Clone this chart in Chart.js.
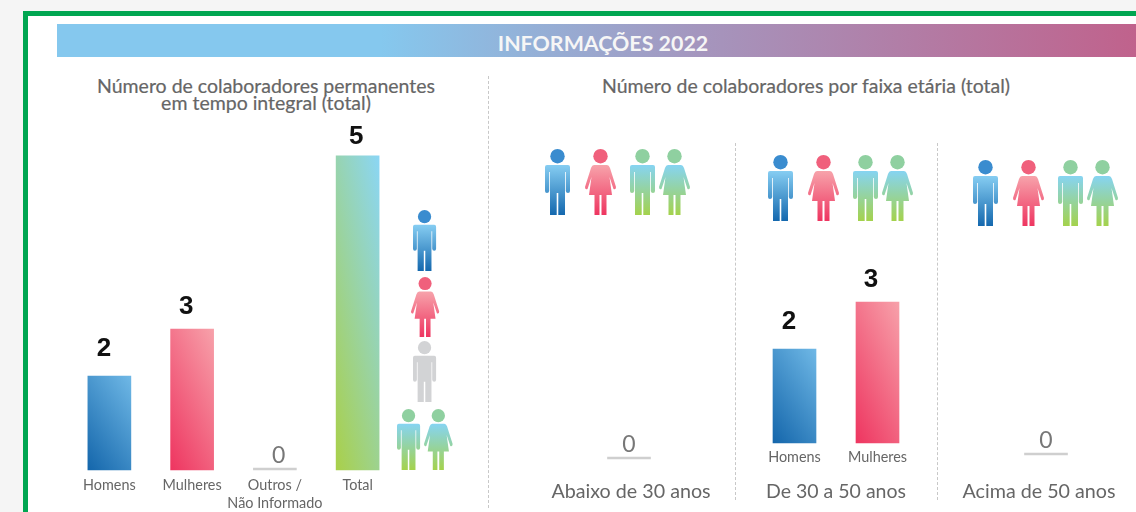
<!DOCTYPE html>
<html lang="pt">
<head>
<meta charset="utf-8">
<title>Informações 2022</title>
<script src="https://cdn.jsdelivr.net/npm/chart.js@4/dist/chart.umd.min.js"></script>
<style>
   html, body { margin: 0; width: 1136px; height: 512px; overflow: hidden; background: #f5f5f5; font-family: Lato, sans-serif; }
   #frame { position: absolute; left: 23px; top: 11px; width: 1200px; height: 600px; border: 5px solid #00a651; background: #fff; }
   #banner { position: absolute; left: 57px; top: 24px; width: 1066px; height: 33px; line-height: 38px; text-align: center; padding-left: 13px; color: #f6f6f6; font-size: 21.4px; font-weight: 700;
      background: linear-gradient(90deg, #85c8ee 0, #85c8ee 30%, #a595bd 60%, #c0628c 100%); }
   .heading { position: absolute; color: #666; font-size: 19.5px; line-height: 17px; text-align: center; -webkit-text-stroke: 0.2px #666; white-space: nowrap; }
   .sep { position: absolute; width: 0; border-left: 1px dashed #c8c8c8; }
   canvas { position: absolute; }
   svg.icon { position: absolute; overflow: visible; }
</style>
</head>
<body>
<div id="frame"></div>
<div id="banner">INFORMAÇÕES 2022</div>
<div class="heading" style="left:66px;top:77px;width:400px">Número de colaboradores permanentes<br>em tempo integral (total)</div>
<div class="heading" style="left:556px;top:77px;width:500px">Número de colaboradores por faixa etária (total)</div>
<div class="sep" style="left:488px;top:76px;height:432px"></div>
<div class="sep" style="left:735px;top:143px;height:357px"></div>
<div class="sep" style="left:937px;top:143px;height:357px"></div>

<svg width="0" height="0" style="position:absolute">
   <defs>
      <linearGradient id="g-blue" x1="0" y1="0" x2="0" y2="1"><stop offset="0" stop-color="#86cdf2"/><stop offset="1" stop-color="#1468ae"/></linearGradient>
      <linearGradient id="g-pink" x1="0" y1="0" x2="0" y2="1"><stop offset="0" stop-color="#f7a3ab"/><stop offset="1" stop-color="#ee3560"/></linearGradient>
      <linearGradient id="g-gray" x1="0" y1="0" x2="0" y2="1"><stop offset="0" stop-color="#d2d3d5"/><stop offset="1" stop-color="#d2d3d5"/></linearGradient>
      <linearGradient id="g-green" x1="0" y1="0" x2="0" y2="1"><stop offset="0" stop-color="#86d4f2"/><stop offset="1" stop-color="#a4d24c"/></linearGradient>
   </defs>
</svg>

<canvas id="chart-sex" width="331" height="394" style="left:68px;top:118px"></canvas>
<canvas id="chart-below" width="200" height="253" style="left:529px;top:259px"></canvas>
<canvas id="chart-mid" width="166" height="257" style="left:753px;top:255px"></canvas>
<canvas id="chart-above" width="180" height="257" style="left:956px;top:255px"></canvas>

<script>
// Data
const sexLabels = ['Homens', 'Mulheres', ['Outros /', 'Não Informado'], 'Total'];
const sexValues = [2, 3, 0, null];
const totalValues = [null, null, null, 5];
const belowLabels = ['Abaixo de 30 anos'];
const belowValues = [0];
const midLabels = ['Homens', 'Mulheres'];
const midValues = [2, 3];
const midTitle = 'De 30 a 50 anos';
const aboveLabels = ['Acima de 50 anos'];
const aboveValues = [0];

const sexFills = [['#1466ab', '#6fb8e6'], ['#ee3560', '#f7a1aa'], null, ['#a9d04a', '#8bd6f5']];
const midFills = [sexFills[0], sexFills[1]];

// Pictograms: kind, colour, centre x, top y, height
const icons = [
   ['man', 'blue', 425, 210, 61], ['woman', 'pink', 425, 277, 60], ['man', 'gray', 425, 341, 61],
   ['man', 'green', 409, 409, 61], ['woman', 'green', 438, 409, 61],
   ['man', 'blue', 557, 149, 66], ['woman', 'pink', 600, 149, 66], ['man', 'green', 642, 149, 66], ['woman', 'green', 674, 149, 66],
   ['man', 'blue', 780, 155, 66], ['woman', 'pink', 823, 155, 66], ['man', 'green', 865, 155, 66], ['woman', 'green', 897, 155, 66],
   ['man', 'blue', 985, 160, 66], ['woman', 'pink', 1028, 160, 66], ['man', 'green', 1070, 160, 66], ['woman', 'green', 1102, 160, 66]
];
const headColors = { blue: '#3a8ccf', pink: '#f0607c', gray: '#d2d3d5', green: '#8fd0a0' };
const bodies = {
   man: { w: 25, d: 'M2 16H23Q25 16 25 18V42Q25 44 23 44Q21 44 20.8 42V23H20V66H13.3V44H11.7V66H5V23H4.2V42Q4 44 2 44Q0 44 0 42V18Q0 16 2 16Z' },
   woman: { w: 31, d: 'M9 16H22Q24 16 25 19L31 38Q31 41 28.5 40L24.5 28L27 46H21.5V66H16.5V46H14.5V66H9.5V46H4L6.5 28L2.5 40Q0 41 0 38L6 19Q7 16 9 16Z' }
};

icons.forEach(([kind, color, cx, top, h]) => {
   const body = bodies[kind];
   const scale = h / 66;
   const svg = document.createElementNS('http://www.w3.org/2000/svg', 'svg');
   svg.setAttribute('class', 'icon');
   svg.setAttribute('viewBox', `0 0 ${body.w} 66`);
   svg.setAttribute('width', body.w * scale);
   svg.setAttribute('height', h);
   svg.style.left = (cx - body.w * scale / 2) + 'px';
   svg.style.top = top + 'px';
   svg.innerHTML = `<circle cx="${body.w / 2}" cy="7.2" r="7.2" fill="${headColors[color]}"/><path d="${body.d}" fill="url(#g-${color})"/>`;
   document.body.appendChild(svg);
});

// Diagonal gradient for each bar, dark at the lower left corner, light at the upper right
function barFill(fills){
   return (ctx) => {
      const fill = fills[ctx.dataIndex];
      const value = ctx.dataset.data[ctx.dataIndex];
      const chart = ctx.chart;
      if(!fill || !value || !chart.chartArea) return '#cfcfcf';
      const yScale = chart.scales[ctx.dataset.yAxisID || 'y'];
      const px = chart.scales.x.getPixelForValue(ctx.dataIndex);
      const base = yScale.getPixelForValue(0);
      const head = yScale.getPixelForValue(value);
      // 40% of the colour change happens across the width of the bar
      const a = 0.4 / 43, b = 0.6 / (base - head);
      const len = a * a + b * b;
      const grad = chart.ctx.createLinearGradient(px - 21.5, base, px - 21.5 + a / len, base - b / len);
      grad.addColorStop(0, fill[0]);
      grad.addColorStop(1, fill[1]);
      return grad;
   };
}

// Numbers above the bars
const valueLabels = {
   id: 'valueLabels',
   afterDatasetsDraw(chart, args, opts){
      const c = chart.ctx;
      chart.data.datasets.forEach((ds, i) => {
         chart.getDatasetMeta(i).data.forEach((bar, j) => {
            const value = ds.data[j];
            if(value === null) return;
            c.save();
            c.textAlign = 'center';
            c.textBaseline = 'middle';
            c.fillStyle = value === 0 ? '#777' : '#111';
            c.font = value === 0 ? '23px Lato' : 'bold 26px "Liberation Sans"';
            c.fillText(String(value), bar.x + opts.dx[j], bar.y - opts.dy[j]);
            c.restore();
         });
      });
   }
};

function xAxis(height, font, padding, extra, labelOffset){
   return Object.assign({
      grid: { display: false, drawTicks: false },
      border: { display: false },
      afterFit(scale){ scale.height = height; },
      ticks: { color: '#666', font: font, padding: padding, labelOffset: labelOffset || 0, maxRotation: 0, minRotation: 0, autoSkip: false }
   }, extra);
}

function barChart(id, labels, datasets, scales, labelOpts){
   return new Chart(document.getElementById(id).getContext('2d'), {
      type: 'bar',
      data: { labels: labels, datasets: datasets },
      options: {
         responsive: false,
         animation: false,
         layout: { padding: 0 },
         scales: scales,
         plugins: { legend: { display: false }, tooltip: { enabled: false }, valueLabels: labelOpts }
      },
      plugins: [valueLabels]
   });
}

function series(data, fills, yAxisID){
   return {
      data: data,
      yAxisID: yAxisID,
      grouped: false,
      clip: false,
      barThickness: 43,
      minBarLength: 2,
      borderWidth: 0,
      backgroundColor: barFill(fills)
   };
}

const hiddenY = (max) => ({ display: false, min: 0, max: max });

// Total has its own scale: in the picture its bar is not drawn to the same scale as the others
barChart('chart-sex', sexLabels,
   [series(sexValues, sexFills, 'y'), series(totalValues, sexFills, 'yTotal')],
   {
      x: xAxis(42, { family: 'Lato', size: 14.4, lineHeight: 1.25 }, 6),
      y: hiddenY(7.5),
      yTotal: hiddenY(5.6)
   },
   { dx: [-5.5, -6, 3.7, -1.5], dy: [27.5, 22, 12, 19] });

barChart('chart-below', belowLabels,
   [series(belowValues, [null], 'y')],
   {
      x: xAxis(53, { family: 'Lato', size: 19.7 }, 21, {}, 2),
      y: hiddenY(4)
   },
   { dx: [0], dy: [12] });

barChart('chart-mid', midLabels,
   [series(midValues, midFills, 'y')],
   {
      x: xAxis(69, { family: 'Lato', size: 14.4 }, 6, {
         title: { display: true, text: midTitle, color: '#666', font: { family: 'Lato', size: 19.5 }, padding: { top: 0, bottom: 9 } }
      }),
      y: hiddenY(4)
   },
   { dx: [-5.5, -6.5], dy: [27.5, 22] });

barChart('chart-above', aboveLabels,
   [series(aboveValues, [null], 'y')],
   {
      x: xAxis(57, { family: 'Lato', size: 19.7 }, 25, {}, -7),
      y: hiddenY(4)
   },
   { dx: [0], dy: [12] });
</script>
</body>
</html>
